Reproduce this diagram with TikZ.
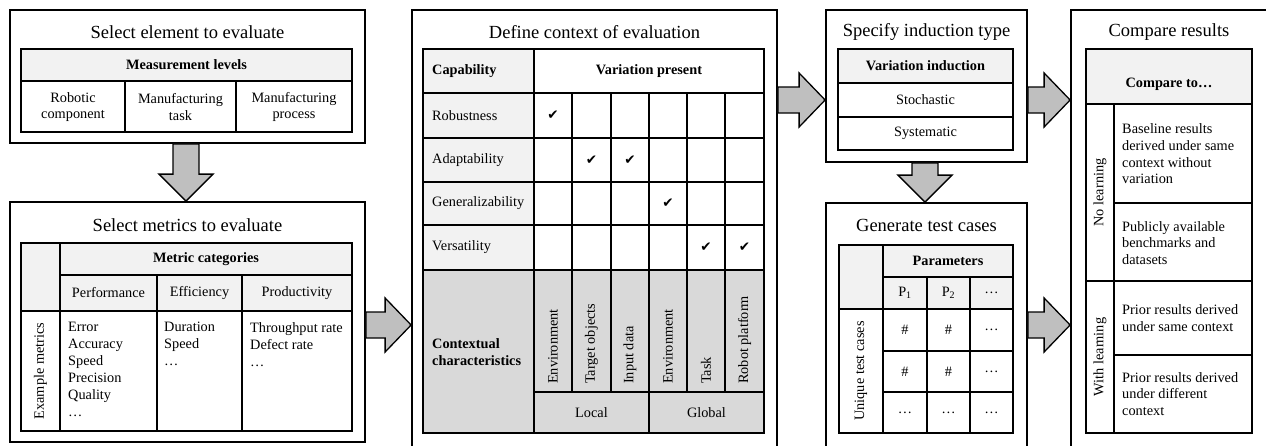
\documentclass[tikz,border=0pt]{standalone}
\usepackage{fontspec}
\setmainfont{Liberation Serif}
\newfontfamily\symfont{DejaVu Sans}
\usetikzlibrary{fit,calc}

\definecolor{hdrgray}{HTML}{F2F2F2}
\definecolor{ctxgray}{HTML}{D9D9D9}
\definecolor{arrgray}{HTML}{BFBFBF}

\newcommand\bodyfont{\fontsize{14.3}{16.7}\selectfont}
\newcommand\listfont{\fontsize{14.3}{17}\selectfont}
\newcommand\titlefont{\fontsize{18.5}{22}\selectfont}
\newcommand\checkfont{\fontsize{13.5}{14}\selectfont\symfont}

\tikzset{
  stagebox/.style={draw, line width=1.8pt, inner sep=0pt},
  gridline/.style={line width=1.2pt},
  txt/.style={inner sep=0pt, font=\bodyfont},
  lst/.style={inner sep=0pt, font=\listfont, align=left, anchor=north west},
  hd/.style={inner sep=0pt, font=\bodyfont\bfseries},
  ttl/.style={inner sep=0pt, font=\titlefont},
  vtxt/.style={txt, rotate=90},
  chk/.style={inner sep=0pt, font=\checkfont},
  harrow/.style={draw, line width=1.3pt, fill=arrgray, line join=miter,
    to path={let \p1=(\tikztostart), \p2=(\tikztotarget) in
      (\x1,\y1+13pt) -- (\x2-26pt,\y1+13pt) -- (\x2-26pt,\y1+27pt) -- (\x2,\y1)
      -- (\x2-26pt,\y1-27pt) -- (\x2-26pt,\y1-13pt) -- (\x1,\y1-13pt) -- cycle}},
  varrow/.style={draw, line width=1.3pt, fill=arrgray, line join=miter,
    to path={let \p1=(\tikztostart), \p2=(\tikztotarget) in
      (\x1-13pt,\y1) -- (\x1-13pt,\y2+27pt) -- (\x1-27pt,\y2+27pt) -- (\x1,\y2)
      -- (\x1+27pt,\y2+27pt) -- (\x1+13pt,\y2+27pt) -- (\x1+13pt,\y1) -- cycle}},
}

\begin{document}
\begin{tikzpicture}[x=1pt,y=-1pt]
\useasboundingbox (0,0) rectangle (1266,445);

% ---------- stage frames ----------
\node[stagebox, fit={(10,10)(365,143)}] (b1) {};
\node[stagebox, fit={(10,202)(365,442)}] (b2) {};
\node[stagebox, fit={(412,10)(777,452)}] (b3) {};
\node[stagebox, fit={(826,10)(1027,162)}] (b4) {};
\node[stagebox, fit={(826,203)(1027,452)}] (b5) {};
\node[stagebox, fit={(1071,10)(1270,452)}] (b6) {};

% ---------- block arrows between stages ----------
\draw[varrow] (b1.south -| 186,0) to (b2.north -| 186,0);
\draw[harrow] (b2.east |- 0,325) to (b3.west |- 0,325);
\draw[harrow] (b3.east |- 0,100) to (b4.west |- 0,100);
\draw[varrow] (b4.south -| 925,0) to (b5.north -| 925,0);
\draw[harrow] (b4.east |- 0,100) to (b6.west |- 0,100);
\draw[harrow] (b5.east |- 0,325) to (b6.west |- 0,325);

% ---------- stage 1: element ----------
\node[ttl] (t1) at (187.5,32) {Select element to evaluate};
\fill[hdrgray] (21,49) rectangle (352,81);
\draw[gridline] (21,49) rectangle (352,132) (21,81) -- (352,81)
  (125,81) -- (125,132) (236,81) -- (236,132);
\node[hd] (ml) at (186.5,65) {Measurement levels};
\node[txt, align=center] (l1) at (73,107) {Robotic\\component};
\node[txt, align=center] (l2) at (180.5,107) {Manufacturing\\task};
\node[txt, align=center] (l3) at (294,107) {Manufacturing\\process};

% ---------- stage 2: metrics ----------
\node[ttl] (t2) at (187.5,225) {Select metrics to evaluate};
\fill[hdrgray] (21,243) rectangle (352,311);
\draw[gridline] (21,243) rectangle (352,431) (60,243) -- (60,431)
  (60,275) -- (352,275) (21,311) -- (352,311)
  (157,275) -- (157,431) (242,275) -- (242,431);
\node[hd] (mc) at (206,259) {Metric categories};
\node[txt] (c1) at (108.5,293) {Performance};
\node[txt] (c2) at (199.5,293) {Efficiency};
\node[txt] (c3) at (297,293) {Productivity};
\node[vtxt] (em) at (40.5,371) {Example metrics};
\node[lst] (m1) at (68,322) {Error\\Accuracy\\Speed\\Precision\\Quality\\…};
\node[lst] (m2) at (164,322) {Duration\\Speed\\…};
\node[lst] (m3) at (250,322) {Throughput rate\\Defect rate\\…};

% ---------- stage 3: context ----------
\node[ttl] (t3) at (594.5,32) {Define context of evaluation};
\fill[hdrgray] (423,49) rectangle (534,270);
\fill[ctxgray] (423,270) rectangle (764,433);
\draw[gridline] (423,49) rectangle (764,433)
  (534,49) -- (534,433) (649,93) -- (649,433)
  (534,392) -- (764,392);
\foreach \yy in {93,138,182,225,270} \draw[gridline] (423,\yy) -- (764,\yy);
\foreach \xx in {572,611,687,725} \draw[gridline] (\xx,93) -- (\xx,392);
\node[hd, anchor=west] (cap) at (432,71) {Capability};
\node[hd] (vp) at (649,71) {Variation present};
\foreach \lab/\yy [count=\i] in {Robustness/115.5, Adaptability/160,
    Generalizability/203.5, Versatility/247.5}
  \node[txt, anchor=west] (cr\i) at (432,\yy) {\lab};
\foreach \xx/\yy [count=\i] in {553/115.5, 591.5/160, 630/160, 668/203.5,
    706/247.5, 744.5/247.5}
  \node[chk] (ck\i) at (\xx,\yy) {✔};
\node[hd, anchor=west, align=left] (cc) at (432,352) {Contextual\\characteristics};
\foreach \xx/\lab [count=\i] in {553/Environment, 591.5/Target objects,
    630/Input data, 668/Environment, 706/Task, 744.5/Robot platform}
  \node[vtxt, anchor=west] (cx\i) at (\xx,384) {\lab};
\node[txt] (loc) at (591.5,412.5) {Local};
\node[txt] (glo) at (706.5,412.5) {Global};

% ---------- stage 4: induction ----------
\node[ttl] (t4) at (926.5,32) {Specify induction type};
\fill[hdrgray] (838,49) rectangle (1013,83);
\draw[gridline] (838,49) rectangle (1013,150) (838,83) -- (1013,83)
  (838,117) -- (1013,117);
\node[hd] (vi) at (925.5,66) {Variation induction};
\node[txt] (sto) at (925.5,100) {Stochastic};
\node[txt] (sys) at (925.5,133.5) {Systematic};

% ---------- stage 5: test cases ----------
\node[ttl] (t5) at (926.5,225) {Generate test cases};
\fill[hdrgray] (839,245) rectangle (1013,309);
\draw[gridline] (839,245) rectangle (1013,433) (883,245) -- (883,433)
  (883,277) -- (1013,277) (839,309) -- (1013,309)
  (883,351) -- (1013,351) (883,392) -- (1013,392)
  (927,277) -- (927,433) (970,277) -- (970,433);
\node[hd] (par) at (948,261) {Parameters};
\node[txt] (p1) at (905,293) {P\textsubscript{1}};
\node[txt] (p2) at (948.5,293) {P\textsubscript{2}};
\node[txt] (p3) at (991.5,293) {…};
\node[vtxt] (utc) at (861,371) {Unique test cases};
\node[txt] (v11) at (905,330) {\#};
\node[txt] (v12) at (948.5,330) {\#};
\node[txt] (v13) at (991.5,330) {…};
\node[txt] (v21) at (905,371.5) {\#};
\node[txt] (v22) at (948.5,371.5) {\#};
\node[txt] (v23) at (991.5,371.5) {…};
\node[txt] (v31) at (905,412.5) {…};
\node[txt] (v32) at (948.5,412.5) {…};
\node[txt] (v33) at (991.5,412.5) {…};

% ---------- stage 6: comparison ----------
\node[ttl] (t6) at (1169,32) {Compare results};
\fill[hdrgray] (1086,49) rectangle (1252,104);
\draw[gridline] (1086,49) rectangle (1252,433) (1086,104) -- (1252,104)
  (1114,104) -- (1114,433) (1086,281) -- (1252,281)
  (1114,203) -- (1252,203) (1114,355) -- (1252,355);
\node[hd] (cto) at (1169,84) {Compare to…};
\node[vtxt] (nl) at (1100,192.5) {No learning};
\node[vtxt] (wl) at (1100,357) {With learning};
\node[txt, anchor=west, align=left] (r1) at (1122,154)
  {Baseline results\\derived under same\\context without\\variation};
\node[txt, anchor=west, align=left] (r2) at (1122,243)
  {Publicly available\\benchmarks and\\datasets};
\node[txt, anchor=west, align=left] (r3) at (1122,318)
  {Prior results derived\\under same context};
\node[txt, anchor=west, align=left] (r4) at (1122,394)
  {Prior results derived\\under different\\context};
\end{tikzpicture}
\end{document}
